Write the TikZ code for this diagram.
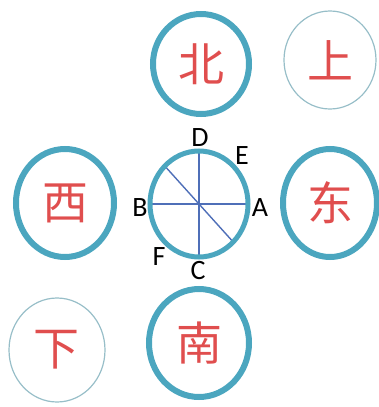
\documentclass[tikz,border=0pt]{standalone}
\usepackage{fontspec}
\setmainfont{Carlito}
\newfontfamily\cjk{Noto Sans CJK SC}
\usetikzlibrary{shapes.geometric,backgrounds}
\definecolor{RingTeal}{HTML}{4BA6BF}
\definecolor{RingPale}{HTML}{97BEC8}
\definecolor{GlyphRed}{HTML}{E04E4E}
\definecolor{SpokeBlue}{HTML}{4F6FB8}
\begin{document}
\begin{tikzpicture}[
  x=1pt,y=-1pt,
  dirring/.style={ellipse,draw=RingTeal,line width=6pt,inner sep=0pt,outer sep=0pt,text=GlyphRed,font=\cjk\fontsize{46}{46}\selectfont},
  paler/.style={draw=RingPale,line width=1.2pt},
  spoke/.style={draw=SpokeBlue,line width=1.4pt},
  pt/.style={font=\fontsize{28}{28}\selectfont,inner sep=0pt},
]
\useasboundingbox (0,0) rectangle (378,407);
\node[dirring,minimum width=96pt,minimum height=100pt] (north) at (201,64) {北};
\node[dirring,paler,minimum width=92pt,minimum height=98pt] (up) at (330,60) {上};
\node[dirring,minimum width=98pt,minimum height=108pt] (west) at (65,203) {西};
\node[dirring,minimum width=94pt,minimum height=108pt] (east) at (330,203) {东};
\node[dirring,line width=5pt,minimum width=98pt,minimum height=106pt] (hub) at (199,204) {};
\node[dirring,paler,minimum width=96pt,minimum height=104pt] (down) at (57,350) {下};
\node[dirring,minimum width=100pt,minimum height=108pt] (south) at (199,343) {南};
% spokes of the hub
\begin{scope}[on background layer]
\draw[spoke] (hub.west) -- (hub.east);
\draw[spoke] (hub.north) -- (hub.south);
\draw[spoke] (hub.132) -- (hub.-48);
\end{scope}
\node[pt] (ptD) at (200,138) {D};
\node[pt] (ptE) at (242,156) {E};
\node[pt] (ptB) at (140,208) {B};
\node[pt] (ptA) at (260,208) {A};
\node[pt] (ptF) at (159,257) {F};
\node[pt] (ptC) at (198,271) {C};
\end{tikzpicture}
\end{document}
